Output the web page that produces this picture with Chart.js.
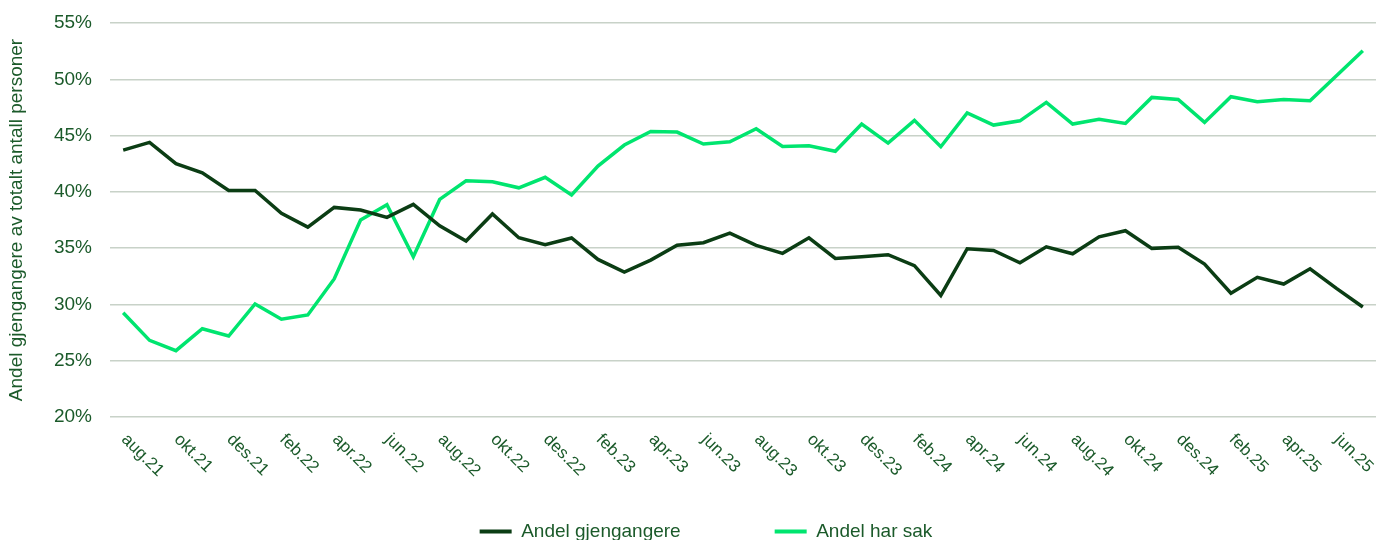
<!DOCTYPE html>
<html>
<head>
<meta charset="utf-8">
<script src="https://cdn.jsdelivr.net/npm/chart.js@4/dist/chart.umd.min.js"></script>
<style>
  html, body { margin: 0; padding: 0; background: #ffffff; overflow: hidden; }
  #wrap { position: relative; width: 1376px; height: 551px; }
</style>
</head>
<body>
<div id="wrap"><canvas id="c"></canvas></div>
<script>
const monthLabels = [
  'aug.21','sep.21','okt.21','nov.21','des.21',
  'jan.22','feb.22','mar.22','apr.22','mai.22','jun.22','jul.22','aug.22','sep.22','okt.22','nov.22','des.22',
  'jan.23','feb.23','mar.23','apr.23','mai.23','jun.23','jul.23','aug.23','sep.23','okt.23','nov.23','des.23',
  'jan.24','feb.24','mar.24','apr.24','mai.24','jun.24','jul.24','aug.24','sep.24','okt.24','nov.24','des.24',
  'jan.25','feb.25','mar.25','apr.25','mai.25','jun.25','jul.25'
];

const andelGjengangere = [
  43.71, 44.39, 42.50, 41.70, 40.13,
  40.13, 38.09, 36.87, 38.62, 38.38, 37.73, 38.89, 36.99, 35.63, 38.03, 35.92, 35.30,
  35.90, 34.00, 32.88, 33.94, 35.25, 35.48, 36.34, 35.25, 34.54, 35.92, 34.09, 34.24,
  34.42, 33.44, 30.80, 34.95, 34.80, 33.70, 35.12, 34.50, 36.01, 36.55, 34.98, 35.07,
  33.59, 30.99, 32.41, 31.81, 33.17, 31.43, 29.77
];

const andelHarSak = [
  29.26, 26.81, 25.89, 27.84, 27.19,
  30.04, 28.68, 29.06, 32.26, 37.50, 38.85, 34.24, 39.33, 40.99, 40.90, 40.36, 41.29,
  39.72, 42.29, 44.16, 45.37, 45.31, 44.25, 44.45, 45.61, 44.04, 44.10, 43.60, 46.02,
  44.33, 46.35, 44.01, 47.02, 45.93, 46.31, 47.95, 46.02, 46.44, 46.08, 48.39, 48.21,
  46.17, 48.45, 48.00, 48.21, 48.09, 50.31, 52.53
];

const seriesNames = ['Andel gjengangere', 'Andel har sak'];
const yTitle = 'Andel gjengangere av totalt antall personer';
const yMin = 20, yMax = 55, yStep = 5;

const FONT = '"Liberation Sans", Arial, sans-serif';
const textColor = '#1b5a2a';
const darkGreen = '#0b3d14';
const lightGreen = '#00e56f';
const gridColor = '#c8d2c8';

const xLabelPlugin = {
  id: 'xLabels',
  afterDraw(chart) {
    const { ctx, chartArea, scales } = chart;
    const x = scales.x;
    ctx.save();
    ctx.font = '17px ' + FONT;
    ctx.fillStyle = textColor;
    ctx.textAlign = 'left';
    ctx.textBaseline = 'middle';
    monthLabels.forEach((lab, i) => {
      if (i % 2 !== 0) return;
      const px = x.getPixelForValue(i);
      ctx.save();
      ctx.translate(px + 1, chartArea.bottom + 20);
      ctx.rotate(Math.PI / 4);
      ctx.fillText(lab, 0, 0);
      ctx.restore();
    });
    ctx.restore();
  }
};

const legendShift = {
  id: 'legendShift',
  afterLayout(chart) {
    if (chart.legend) {
      chart.legend.left += 18;
      chart.legend.right += 18;
    }
  }
};

new Chart(document.getElementById('c'), {
  type: 'line',
  data: {
    labels: monthLabels,
    datasets: [
      {
        label: seriesNames[0],
        data: andelGjengangere,
        borderColor: darkGreen,
        backgroundColor: darkGreen,
        borderWidth: 3.5,
        pointRadius: 0,
        tension: 0
      },
      {
        label: seriesNames[1],
        data: andelHarSak,
        borderColor: lightGreen,
        backgroundColor: lightGreen,
        borderWidth: 3.5,
        pointRadius: 0,
        tension: 0
      }
    ]
  },
  options: {
    responsive: true,
    maintainAspectRatio: false,
    animation: false,
    layout: { padding: { top: 23, left: 0, right: 0, bottom: 0 } },
    plugins: {
      tooltip: { enabled: false },
      legend: {
        position: 'bottom',
        labels: {
          boxWidth: 32,
          boxHeight: 4,
          padding: 94,
          color: textColor,
          font: { family: FONT, size: 19 },
          generateLabels(chart) {
            return Chart.defaults.plugins.legend.labels.generateLabels(chart).map(l => ({
              ...l, lineWidth: 0, fillStyle: l.strokeStyle
            }));
          }
        }
      }
    },
    scales: {
      x: {
        offset: true,
        grid: { display: false, drawTicks: false },
        border: { display: false },
        ticks: { display: false, autoSkip: false },
        afterFit(scale) { scale.height = 11; }
      },
      y: {
        min: yMin,
        max: yMax,
        grid: { color: gridColor, lineWidth: 1.5, drawTicks: false },
        border: { display: false },
        ticks: {
          stepSize: yStep,
          padding: 18,
          color: textColor,
          font: { family: FONT, size: 19 },
          callback: v => v + '%'
        },
        title: {
          display: true,
          text: yTitle,
          color: textColor,
          font: { family: FONT, size: 19 },
          padding: { top: 5, bottom: 0 }
        },
        afterFit(scale) {
          scale.width = 110;
          scale.paddingTop = 0;
          scale.paddingBottom = 0;
        }
      }
    }
  },
  plugins: [xLabelPlugin, legendShift]
});
</script>
</body>
</html>
